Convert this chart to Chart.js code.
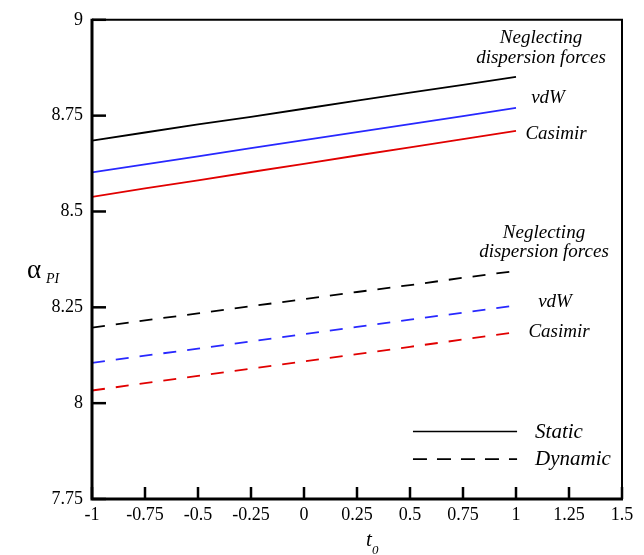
<!DOCTYPE html>
<html>
<head>
<meta charset="utf-8">
<script src="https://cdn.jsdelivr.net/npm/chart.js@4.4.0/dist/chart.umd.min.js"></script>
<style>
  html, body { margin: 0; padding: 0; background: #fff; }
  #wrap { width: 644px; height: 555px; position: relative; }
</style>
</head>
<body>
<div id="wrap"><canvas id="c" width="644" height="555"></canvas></div>
<script>
// ---- Data ----
const t0Values = [-1, -0.75, -0.5, -0.25, 0, 0.25, 0.5, 0.75, 1];
const staticNeglecting = [8.685, 8.706, 8.727, 8.747, 8.768, 8.789, 8.810, 8.830, 8.851];
const staticVdW        = [8.602, 8.623, 8.644, 8.665, 8.686, 8.707, 8.728, 8.749, 8.770];
const staticCasimir    = [8.538, 8.560, 8.581, 8.603, 8.624, 8.646, 8.667, 8.689, 8.710];
const dynamicNeglecting = [8.197, 8.216, 8.234, 8.253, 8.271, 8.290, 8.308, 8.327, 8.345];
const dynamicVdW        = [8.105, 8.124, 8.142, 8.161, 8.180, 8.199, 8.218, 8.236, 8.255];
const dynamicCasimir    = [8.033, 8.052, 8.071, 8.090, 8.109, 8.128, 8.147, 8.166, 8.185];
const xTicks = [-1, -0.75, -0.5, -0.25, 0, 0.25, 0.5, 0.75, 1, 1.25, 1.5];
const yTicks = [7.75, 8, 8.25, 8.5, 8.75, 9];
const seriesLabels = ['Neglecting dispersion forces', 'vdW', 'Casimir'];
const legendLabels = ['Static', 'Dynamic'];

const BLACK = '#000000', BLUE = 'rgb(40,40,255)', RED = 'rgb(225,0,0)';
const DASH = [13, 11];

function pts(arr) { return t0Values.map((x, i) => ({ x: x, y: arr[i] })); }
function ds(label, arr, color, dashed) {
  return {
    label: label, data: pts(arr), showLine: true, borderColor: color,
    backgroundColor: color, borderWidth: 1.8, pointRadius: 0,
    borderDash: dashed ? DASH : [], tension: 0
  };
}

const serif = '"Liberation Serif", "DejaVu Serif", serif';

// Annotation text (data-space anchors, centered)
const annotations = [
  { text: 'Neglecting', x: 1.118, y: 8.940 },
  { text: 'dispersion forces', x: 1.118, y: 8.888 },
  { text: 'vdW', x: 1.151, y: 8.782 },
  { text: 'Casimir', x: 1.189, y: 8.689 },
  { text: 'Neglecting', x: 1.132, y: 8.432 },
  { text: 'dispersion forces', x: 1.132, y: 8.380 },
  { text: 'vdW', x: 1.184, y: 8.251 },
  { text: 'Casimir', x: 1.203, y: 8.173 }
];

const framePlugin = {
  id: 'frame',
  afterDatasetsDraw(chart) {
    const ctx = chart.ctx, a = chart.chartArea;
    const xs = chart.scales.x, ys = chart.scales.y;
    ctx.save();
    ctx.strokeStyle = '#000';
    ctx.lineCap = 'butt';
    // ticks (inward)
    ctx.lineWidth = 2.5;
    xTicks.forEach(v => {
      const px = xs.getPixelForValue(v);
      ctx.beginPath(); ctx.moveTo(px, a.bottom); ctx.lineTo(px, a.bottom - 12); ctx.stroke();
    });
    yTicks.forEach(v => {
      const py = ys.getPixelForValue(v);
      ctx.beginPath(); ctx.moveTo(a.left, py); ctx.lineTo(a.left + 14, py); ctx.stroke();
    });
    // frame
    ctx.lineWidth = 2;
    ctx.beginPath(); ctx.moveTo(a.left, a.top); ctx.lineTo(a.right, a.top); ctx.lineTo(a.right, a.bottom); ctx.stroke();
    ctx.lineWidth = 3;
    ctx.beginPath(); ctx.moveTo(a.left, a.top - 1); ctx.lineTo(a.left, a.bottom); ctx.lineTo(a.right + 1, a.bottom); ctx.stroke();

    // annotations
    ctx.fillStyle = '#000';
    ctx.font = 'italic 19px ' + serif;
    ctx.textAlign = 'center';
    ctx.textBaseline = 'alphabetic';
    annotations.forEach(an => {
      ctx.fillText(an.text, xs.getPixelForValue(an.x), ys.getPixelForValue(an.y));
    });

    // legend
    const lx1 = xs.getPixelForValue(0.514), lx2 = xs.getPixelForValue(1.005);
    const ly1 = ys.getPixelForValue(7.926), ly2 = ys.getPixelForValue(7.854);
    ctx.lineWidth = 1.6;
    ctx.setLineDash([]);
    ctx.beginPath(); ctx.moveTo(lx1, ly1); ctx.lineTo(lx2, ly1); ctx.stroke();
    ctx.setLineDash([14, 10]);
    ctx.beginPath(); ctx.moveTo(lx1, ly2); ctx.lineTo(lx2, ly2); ctx.stroke();
    ctx.setLineDash([]);
    ctx.font = 'italic 21px ' + serif;
    ctx.textAlign = 'left';
    const tx = xs.getPixelForValue(1.090);
    ctx.fillText(legendLabels[0], tx, ly1 + 6);
    ctx.fillText(legendLabels[1], tx, ly2 + 6);

    // axis titles
    ctx.font = '27px ' + serif;
    ctx.fillText('\u03B1', 27, 278);
    ctx.font = 'italic 14px ' + serif;
    ctx.fillText('PI', 46, 283);
    ctx.font = 'italic 21px ' + serif;
    ctx.fillText('t', 366, 546);
    ctx.font = 'italic 13px ' + serif;
    ctx.fillText('0', 372, 554);
    ctx.restore();
  }
};

new Chart(document.getElementById('c'), {
  type: 'scatter',
  data: {
    datasets: [
      ds('Static ' + seriesLabels[0], staticNeglecting, BLACK, false),
      ds('Static ' + seriesLabels[1], staticVdW, BLUE, false),
      ds('Static ' + seriesLabels[2], staticCasimir, RED, false),
      ds('Dynamic ' + seriesLabels[0], dynamicNeglecting, BLACK, true),
      ds('Dynamic ' + seriesLabels[1], dynamicVdW, BLUE, true),
      ds('Dynamic ' + seriesLabels[2], dynamicCasimir, RED, true)
    ]
  },
  options: {
    responsive: false,
    animation: false,
    devicePixelRatio: 1,
    layout: { padding: { left: 0, top: 17, right: 22, bottom: 0 } },
    plugins: { legend: { display: false }, tooltip: { enabled: false } },
    scales: {
      x: {
        type: 'linear', min: -1, max: 1.5,
        afterBuildTicks: s => { s.ticks = xTicks.map(v => ({ value: v })); },
        afterFit: s => { s.height = 56; },
        grid: { display: false, drawTicks: false },
        border: { display: false },
        ticks: {
          color: '#000', padding: 5, maxRotation: 0, autoSkip: false,
          font: { family: serif, size: 18 },
          callback: v => String(v)
        }
      },
      y: {
        type: 'linear', min: 7.75, max: 9,
        afterBuildTicks: s => { s.ticks = yTicks.map(v => ({ value: v })); },
        afterFit: s => { s.width = 92; },
        grid: { display: false, drawTicks: false },
        border: { display: false },
        ticks: {
          color: '#000', padding: 9, autoSkip: false,
          font: { family: serif, size: 18 },
          callback: v => String(v)
        }
      }
    }
  },
  plugins: [framePlugin]
});
</script>
</body>
</html>
